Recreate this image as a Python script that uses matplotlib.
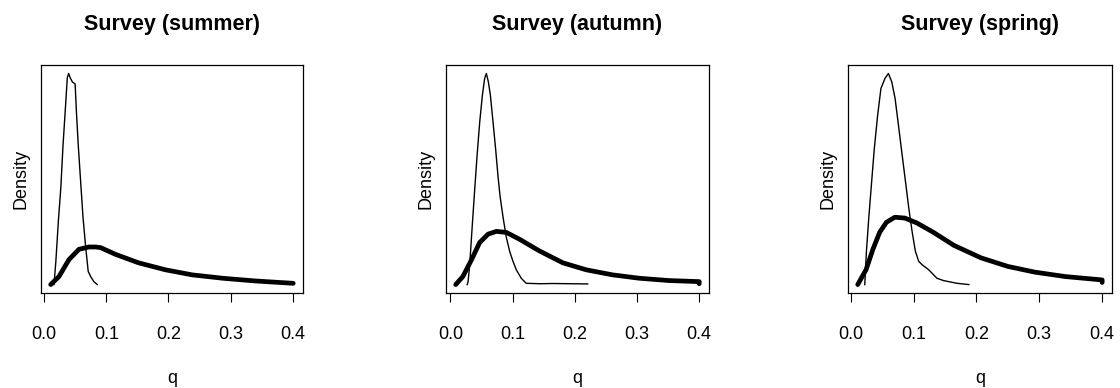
import matplotlib
matplotlib.use('Agg')
import matplotlib.pyplot as plt

plt.rcParams['font.family'] = ['Liberation Sans', 'DejaVu Sans']

titles = ['Survey (summer)', 'Survey (autumn)', 'Survey (spring)']
xticks = [0.0, 0.1, 0.2, 0.3, 0.4]
xtick_labels = ['0.0', '0.1', '0.2', '0.3', '0.4']

# posterior (thin) - relative density, peak = 1
summer_post_q = [0.016, 0.019, 0.023, 0.027, 0.0305, 0.034, 0.0374, 0.0395, 0.042, 0.0455, 0.050, 0.052, 0.055, 0.059,
	0.0626, 0.067, 0.071, 0.075, 0.080, 0.0856]
summer_post_d = [0.0, 0.11, 0.30, 0.46, 0.66, 0.82, 0.98, 1.0, 0.98, 0.96, 0.95, 0.82, 0.66, 0.48,
	0.32, 0.175, 0.062, 0.038, 0.014, 0.0]
autumn_post_q = [0.027, 0.0284, 0.031, 0.0353, 0.039, 0.0428, 0.0471, 0.0514, 0.0551, 0.0578, 0.061, 0.0643, 0.0686,
	0.0728, 0.0766, 0.080, 0.0847, 0.090, 0.0953, 0.1007, 0.106, 0.114, 0.122, 0.1435, 0.165, 0.221]
autumn_post_d = [0.0, 0.014, 0.094, 0.287, 0.448, 0.608, 0.769, 0.897, 0.977, 1.0, 0.961, 0.897, 0.769,
	0.640, 0.512, 0.416, 0.319, 0.223, 0.158, 0.110, 0.070, 0.030, 0.006, 0.004, 0.005, 0.003]
spring_post_q = [0.022, 0.0247, 0.0285, 0.0328, 0.0371, 0.0425, 0.0478, 0.0543, 0.0597, 0.065, 0.0704, 0.0758,
	0.0812, 0.0866, 0.092, 0.0973, 0.1027, 0.108, 0.1134, 0.124, 0.137, 0.1475, 0.169, 0.188]
spring_post_d = [0.0, 0.158, 0.319, 0.480, 0.640, 0.801, 0.929, 0.977, 1.0, 0.961, 0.881, 0.753,
	0.624, 0.496, 0.367, 0.255, 0.158, 0.110, 0.094, 0.070, 0.030, 0.019, 0.006, 0.0]

# prior (thick)
summer_prior_q = [0.0107, 0.024, 0.040, 0.056, 0.072, 0.083, 0.091, 0.115, 0.152, 0.195, 0.238, 0.287, 0.340, 0.4005]
summer_prior_d = [0.0, 0.038, 0.118, 0.167, 0.178, 0.178, 0.175, 0.143, 0.103, 0.070, 0.046, 0.030, 0.017, 0.006]
autumn_prior_q = [0.0085, 0.020, 0.034, 0.047, 0.0606, 0.074, 0.090, 0.111, 0.1435, 0.181, 0.2185, 0.261, 0.304,
	0.352, 0.4005, 0.4005]
autumn_prior_d = [0.0, 0.038, 0.118, 0.199, 0.239, 0.252, 0.247, 0.215, 0.159, 0.103, 0.070, 0.046, 0.030,
	0.019, 0.014, 0.004]
spring_prior_q = [0.0108, 0.024, 0.035, 0.0457, 0.0565, 0.070, 0.086, 0.105, 0.1317, 0.164, 0.207, 0.250, 0.293,
	0.3415, 0.4005, 0.4005]
spring_prior_d = [0.0, 0.070, 0.167, 0.247, 0.295, 0.319, 0.315, 0.292, 0.247, 0.186, 0.127, 0.086, 0.059,
	0.038, 0.022, 0.010]

post = [(summer_post_q, summer_post_d), (autumn_post_q, autumn_post_d), (spring_post_q, spring_post_d)]
prior = [(summer_prior_q, summer_prior_d), (autumn_prior_q, autumn_prior_d), (spring_prior_q, spring_prior_d)]


def main():
	fig = plt.figure(figsize=(11.2, 3.88), dpi=100)
	lefts = [0.0366, 0.3982, 0.7571]
	widths = [0.2339, 0.2348, 0.2357]
	for i in range(3):
		ax = fig.add_axes([lefts[i], 0.2448, widths[i], 0.5876])
		ax.plot(post[i][0], post[i][1], color='black', lw=1.0)
		ax.plot(prior[i][0], prior[i][1], color='black', lw=3.4, solid_capstyle='round', solid_joinstyle='round')
		ax.margins(x=0.04, y=0.04)
		ax.set_xticks(xticks)
		ax.set_xticklabels(xtick_labels)
		ax.set_yticks([])
		ax.tick_params(axis='x', length=6.5, width=0.8, pad=17.5, labelsize=13)
		for s in ax.spines.values():
			s.set_linewidth(0.9)
		ax.set_title(titles[i], fontsize=15.5, fontweight='bold', pad=25.5)
		ax.set_xlabel('q', fontsize=13, labelpad=19)
		ax.set_ylabel('Density', fontsize=13, labelpad=8)
	fig.savefig('out.png', dpi=100)


if __name__ == '__main__':
	main()
